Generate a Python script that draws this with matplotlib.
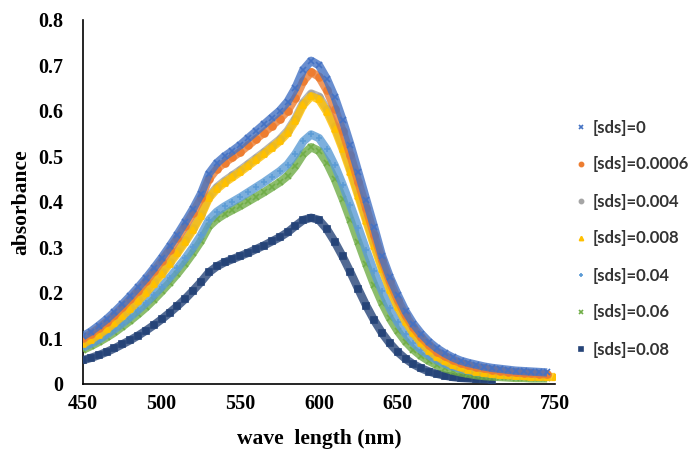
import matplotlib
matplotlib.use("Agg")
import matplotlib.pyplot as plt

wavelength = list(range(450, 751, 5))

labels = ["[sds]=0", "[sds]=0.0006", "[sds]=0.004", "[sds]=0.008",
          "[sds]=0.04", "[sds]=0.06", "[sds]=0.08"]
colors = ["#4472C4", "#ED7D31", "#A5A5A5", "#FFC000", "#5B9BD5", "#70AD47", "#264478"]
markers = ["x", "o", "o", "^", "+", "x", "s"]

s0 = [0.105,0.115,0.128,0.142,0.158,0.175,0.193,0.212,0.232,0.254,0.277,0.302,0.328,0.356,0.385,0.418,
      0.462,0.485,0.500,0.512,0.525,0.540,0.555,0.570,0.585,0.600,0.620,0.650,0.690,0.710,0.700,0.670,
      0.630,0.580,0.525,0.465,0.405,0.345,0.282,0.235,0.196,0.160,0.132,0.110,0.092,0.078,0.067,0.058,
      0.051,0.046,0.042,0.038,0.035,0.033,0.031,0.029,0.028,0.027,0.026,0.025]
s1 = [0.100,0.110,0.122,0.136,0.151,0.168,0.186,0.205,0.225,0.247,0.270,0.294,0.320,0.347,0.376,0.408,
      0.450,0.472,0.486,0.498,0.510,0.524,0.538,0.552,0.567,0.582,0.600,0.628,0.665,0.685,0.675,0.645,
      0.605,0.556,0.502,0.444,0.386,0.328,0.273,0.225,0.185,0.151,0.124,0.102,0.085,0.071,0.061,0.053,
      0.046,0.041,0.037,0.034,0.031,0.029,0.027,0.025,0.024,0.023,0.022,0.021]
s2 = [0.091,0.100,0.111,0.124,0.138,0.153,0.169,0.186,0.204,0.224,0.245,0.268,0.291,0.316,0.343,0.373,
      0.412,0.432,0.446,0.458,0.470,0.483,0.496,0.509,0.523,0.537,0.556,0.583,0.618,0.638,0.631,0.604,
      0.567,0.522,0.472,0.418,0.364,0.310,0.259,0.213,0.175,0.143,0.117,0.096,0.080,0.067,0.057,0.049,
      0.043,0.038,0.034,0.031,0.029,0.027,0.025,0.024,0.023,0.022,0.021,0.020]
s3 = [0.088,0.097,0.108,0.120,0.134,0.149,0.165,0.182,0.200,0.220,0.241,0.264,0.287,0.312,0.339,0.369,
      0.408,0.428,0.442,0.454,0.466,0.479,0.492,0.505,0.519,0.533,0.551,0.578,0.613,0.632,0.625,0.598,
      0.561,0.516,0.466,0.412,0.358,0.304,0.253,0.207,0.169,0.137,0.111,0.090,0.073,0.060,0.050,0.042,
      0.036,0.031,0.027,0.024,0.022,0.020,0.019,0.018,0.017,0.016,0.016,0.015,0.015]
s4 = [0.080,0.088,0.097,0.108,0.120,0.133,0.147,0.162,0.178,0.195,0.213,0.233,0.254,0.276,0.300,0.327,
      0.360,0.378,0.390,0.400,0.410,0.421,0.432,0.443,0.455,0.467,0.482,0.505,0.533,0.548,0.540,0.515,
      0.480,0.438,0.392,0.343,0.294,0.247,0.204,0.166,0.135,0.110,0.090,0.074,0.062,0.052,0.044,0.038,
      0.033,0.029,0.026,0.024,0.022,0.021,0.020,0.019,0.019,0.018,0.018,0.017]
s5 = [0.075,0.083,0.092,0.102,0.113,0.126,0.139,0.153,0.168,0.185,0.203,0.222,0.242,0.264,0.288,0.314,
      0.346,0.362,0.373,0.382,0.391,0.401,0.411,0.421,0.432,0.443,0.457,0.478,0.505,0.520,0.512,0.486,
      0.450,0.407,0.360,0.311,0.263,0.218,0.178,0.144,0.116,0.093,0.075,0.061,0.050,0.041,0.034,0.029,
      0.025,0.022,0.019,0.017,0.016,0.015,0.014,0.013,0.013,0.012,0.012,0.012]
s6 = [0.052,0.057,0.063,0.070,0.078,0.087,0.096,0.106,0.117,0.129,0.142,0.156,0.171,0.187,0.205,0.224,
      0.245,0.258,0.267,0.274,0.281,0.288,0.296,0.304,0.313,0.322,0.333,0.347,0.360,0.365,0.360,0.340,
      0.312,0.280,0.245,0.208,0.172,0.140,0.112,0.089,0.070,0.055,0.043,0.034,0.027,0.022,0.018,0.015,
      0.013,0.012,0.011,0.010,0.009]

series = [s0, s1, s2, s3, s4, s5, s6]
zorders = [9, 8, 6, 7, 5, 4, 3]

fig = plt.figure(figsize=(6.89, 4.5), dpi=100)
ax = fig.add_axes([0.1205, 0.147, 0.685, 0.809])

handles = []
for i in range(7):
    y = series[i]
    x = wavelength[:len(y)]
    ax.plot(x, y, color=colors[i], lw=6, alpha=0.8, solid_capstyle="butt", zorder=zorders[i])
    h, = ax.plot(x, y, linestyle="none", marker=markers[i], color=colors[i],
                 markersize=5, markeredgewidth=1.2, zorder=zorders[i], label=labels[i])
    handles.append(h)

ax.set_xlim(450, 750)
ax.set_ylim(0, 0.8)
ax.set_xticks([450, 500, 550, 600, 650, 700, 750])
ax.set_yticks([0, 0.1, 0.2, 0.3, 0.4, 0.5, 0.6, 0.7, 0.8])
ax.set_yticklabels(["0", "0.1", "0.2", "0.3", "0.4", "0.5", "0.6", "0.7", "0.8"])
for s in ["top", "right"]:
    ax.spines[s].set_visible(False)
for s in ["left", "bottom"]:
    ax.spines[s].set_color("black")
    ax.spines[s].set_linewidth(1.2)
ax.tick_params(axis="both", length=0, labelsize=14.5)
ax.tick_params(axis="y", pad=14)
ax.tick_params(axis="x", pad=7)
for t in ax.get_xticklabels() + ax.get_yticklabels():
    t.set_fontfamily("Liberation Serif")
    t.set_fontweight("bold")

ax.set_xlabel("wave  length (nm)", fontfamily="Liberation Serif", fontweight="bold",
              fontsize=15.5, labelpad=11)
ax.set_ylabel("absorbance", fontfamily="Liberation Serif", fontweight="bold",
              fontsize=15.5, labelpad=5)

leg = fig.legend(handles=handles, labels=labels, loc="center left",
                 bbox_to_anchor=(0.821, 0.47), frameon=False, borderpad=0,
                 prop={"family": "Lato", "weight": "bold", "size": 12},
                 handlelength=0.8, handletextpad=0.3, labelspacing=1.26, markerscale=0.6)
for t in leg.get_texts():
    t.set_color("#333333")

fig.savefig("out.png", dpi=100)
